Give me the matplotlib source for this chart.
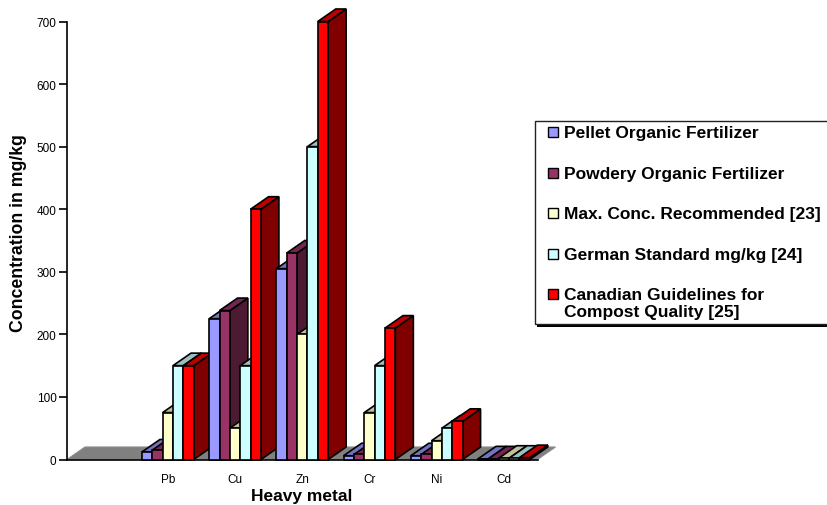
import matplotlib
matplotlib.use("Agg")
import matplotlib.pyplot as plt
from matplotlib.patches import Polygon, Rectangle

metals = ["Pb", "Cu", "Zn", "Cr", "Ni", "Cd"]
pellet = [12, 225, 305, 6, 6, 1]
powdery = [15, 238, 330, 8, 8, 1]
max_conc = [75, 50, 200, 75, 30, 2]
german = [150, 150, 500, 150, 50, 2]
canadian = [150, 400, 700, 210, 61, 3]
series = [pellet, powdery, max_conc, german, canadian]
names = ["Pellet Organic Fertilizer", "Powdery Organic Fertilizer",
         "Max. Conc. Recommended [23]", "German Standard mg/kg [24]",
         "Canadian Guidelines for\nCompost Quality [25]"]
front = ["#9999FF", "#993366", "#FFFFCC", "#CCFFFF", "#FF0000"]
top = ["#7373BF", "#732650", "#BFBF99", "#99BFBF", "#BF0000"]
side = ["#4D4D80", "#4D1A33", "#808066", "#668080", "#800000"]

W, H = 827, 506
plt.rcParams["font.family"] = ["Liberation Sans", "DejaVu Sans"]
fig = plt.figure(figsize=(W / 100, H / 100), dpi=100)
x0, x1, y0, y1 = 67, 537.5, 460.5, 22.5
ax = fig.add_axes([x0 / W, 1 - y0 / H, (x1 - x0) / W, (y0 - y1) / H])
ax.set_xlim(-1.5, 5.5)
ax.set_ylim(0, 700)
ax.patch.set_alpha(0)

bw = 0.154
dx = 18 / 67.2
dy = 20

ax.add_patch(Polygon([(-1.5, 0), (-1.5 + dx, dy), (5.5 + dx, dy), (5.5, 0)],
                     closed=True, fc="#808080", ec="#8c8c8c", lw=0.8, clip_on=False, zorder=1))
z = 2
for i in range(len(metals)):
    for j, vals in enumerate(series):
        v = vals[i]
        l = i + (j - 2.5) * bw
        r = l + bw
        kw = dict(closed=True, ec="black", lw=1.2, clip_on=False, joinstyle="miter")
        ax.add_patch(Polygon([(r, 0), (r + dx, dy), (r + dx, v + dy), (r, v)], fc=side[j], zorder=z, **kw))
        ax.add_patch(Polygon([(l, v), (l + dx, v + dy), (r + dx, v + dy), (r, v)], fc=top[j], zorder=z, **kw))
        ax.add_patch(Polygon([(l, 0), (r, 0), (r, v), (l, v)], fc=front[j], zorder=z, **kw))
        z += 1

for s in ["top", "right"]:
    ax.spines[s].set_visible(False)
ax.spines["left"].set_linewidth(1.2)
ax.spines["bottom"].set_linewidth(1.2)
ax.spines["bottom"].set_zorder(1.5)
ax.set_yticks(range(0, 701, 100))
ax.set_xticks(range(len(metals)))
ax.set_xticklabels(metals)
ax.tick_params(axis="x", length=0, pad=10, labelsize=8.5)
ax.tick_params(axis="y", length=6, width=1.2, pad=1.5, labelsize=8.5)

fig.text(302 / W, 1 - 497 / H, "Heavy metal", ha="center", va="center", fontsize=12.5, fontweight="bold")
fig.text(18.5 / W, 1 - 233 / H, "Concentration in mg/kg", rotation=90, ha="center", va="center",
         fontsize=12.7, fontweight="bold")

# Legend box with shadow, running off the right edge
fig.add_artist(Rectangle((537 / W, 1 - 327.5 / H), 300 / W, 204 / H, transform=fig.transFigure, fc="black", ec="none"))
fig.add_artist(Rectangle((534.5 / W, 1 - 324.5 / H), 300 / W, 202.5 / H, transform=fig.transFigure,
                         fc="white", ec="#222222", lw=1.0))
ys = [133, 174, 214, 255, 295]
for j, (name, yy) in enumerate(zip(names, ys)):
    fig.add_artist(Rectangle((548 / W, 1 - (yy + 5) / H), 10 / W, 10 / H, transform=fig.transFigure,
                             fc=front[j], ec="black", lw=1.0))
    if j < 4:
        fig.text(564.5 / W, 1 - (yy + 0.5) / H, name, ha="left", va="center", fontsize=12.5, fontweight="bold")
    else:
        fig.text(564.5 / W, 1 - (yy - 7) / H, name, ha="left", va="top", fontsize=12.5, fontweight="bold",
                 linespacing=1.2)

fig.savefig("out.png", dpi=100)
